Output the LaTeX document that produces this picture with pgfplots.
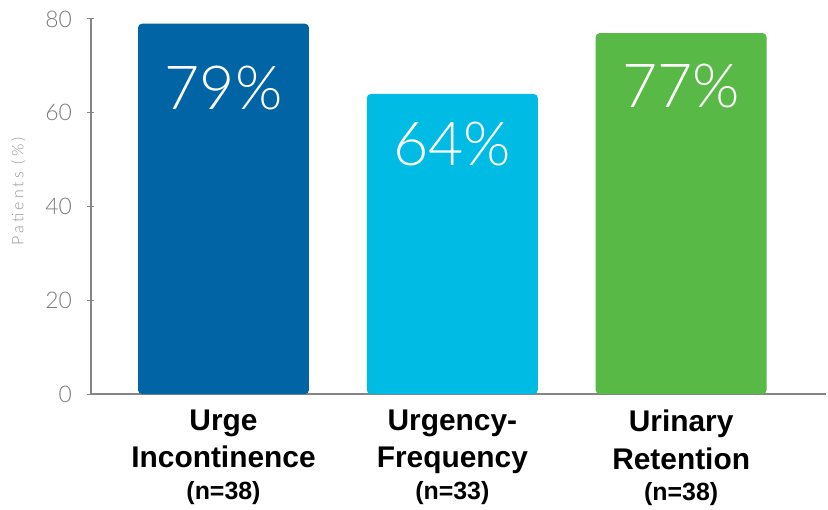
\documentclass[border=0pt]{standalone}
\usepackage{pgfplots}
\pgfplotsset{compat=1.18}
\usepackage{fontspec}
\setmainfont{Open Sans}
\newfontfamily\lightfont{Lato}[UprightFont={* Light}]
\newfontfamily\boldsans{Liberation Sans}[UprightFont={* Bold}]
\newfontfamily\spacedfont{Lato}[UprightFont={* Light}, LetterSpace=20]
\definecolor{cDark}{HTML}{0064A5}
\definecolor{cCyan}{HTML}{00BCE4}
\definecolor{cGreen}{HTML}{58B947}
\definecolor{axgray}{HTML}{858585}
\definecolor{txgray}{HTML}{7A7A7A}
\begin{document}
\begin{tikzpicture}
\useasboundingbox (-91bp,-116bp) rectangle (737bp,394bp);
\begin{axis}[
  anchor=south west, at={(0,0)},
  scale only axis, width=735bp, height=375bp,
  xmin=-0.579, xmax=2.633, ymin=0, ymax=80,
  axis x line*=bottom, axis y line*=left,
  axis line style={axgray, line width=1.3bp, -},
  xtick=\empty,
  ytick={0,20,40,60,80},
  tick align=center, major tick length=7bp,
  tick style={axgray, line width=1bp},
  /pgf/number format/assume math mode=true,
  yticklabel style={font=\lightfont\fontsize{23}{26}\selectfont, text=txgray, xshift=-12bp},
  ylabel={Patients (\%)},
  ylabel style={font=\spacedfont\fontsize{16}{18}\selectfont, text=black!42, at={(axis description cs:-0.099,0.54)}, anchor=center},
  clip=false,
]
\addplot[ybar, bar width=0.747, fill=cDark, draw=none, rounded corners=4bp] coordinates {(0,79)};
\addplot[ybar, bar width=0.747, fill=cCyan, draw=none, rounded corners=4bp] coordinates {(1,64)};
\addplot[ybar, bar width=0.747, fill=cGreen, draw=none, rounded corners=4bp] coordinates {(2,77)};
\addplot[draw=none, mark=none, point meta=explicit symbolic,
  nodes near coords, nodes near coords align={center},
  every node near coord/.append style={anchor=center, text=white, font=\lightfont\fontsize{61}{63}\selectfont}]
  coordinates {(0,65.2)[79\%] (1,53.4)[64\%] (2,65.7)[77\%]};
\addplot[draw=none, mark=none, point meta=explicit symbolic,
  nodes near coords, 
  every node near coord/.append style={anchor=north, align=center, text=black, yshift=-12bp,
    font=\boldsans\fontsize{30}{38}\selectfont}]
  coordinates {(0,0)[{Urge\\Incontinence\\[-6bp]{\fontsize{25}{28}\selectfont(n=38)}}]
               (1,0)[{Urgency-\\Frequency\\[-6bp]{\fontsize{25}{28}\selectfont(n=33)}}]
               (2,0)[{Urinary\\Retention\\[-6bp]{\fontsize{25}{28}\selectfont(n=38)}}]};
\end{axis}
\end{tikzpicture}
\end{document}
